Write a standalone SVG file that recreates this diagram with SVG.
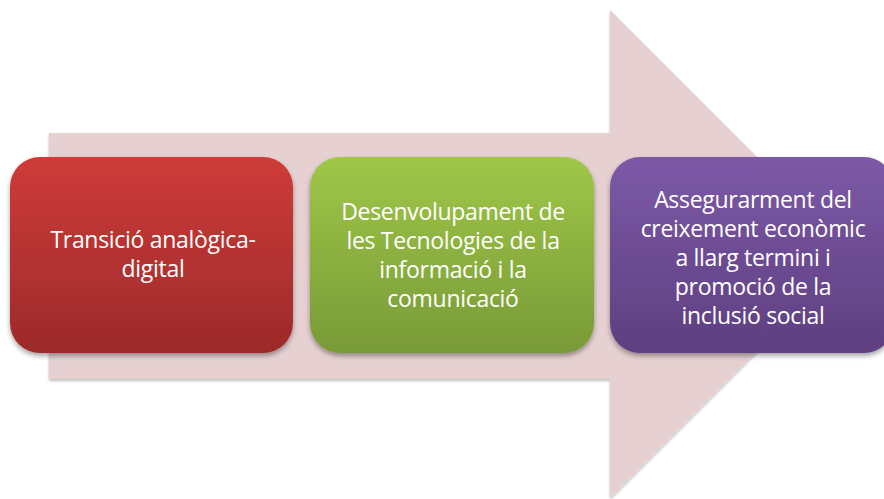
<svg xmlns="http://www.w3.org/2000/svg" width="884" height="499" viewBox="0 0 884 499">
<defs>
<style>
.lbl{font-family:"Open Sans","Noto Sans","Liberation Sans",sans-serif;font-size:23px;fill:#ffffff;text-anchor:middle;letter-spacing:-0.3px}
</style>
<linearGradient id="gRed" x1="0" y1="0" x2="0" y2="1"><stop offset="0" stop-color="#CE3B39"/><stop offset="1" stop-color="#9D2A2A"/></linearGradient>
<linearGradient id="gGreen" x1="0" y1="0" x2="0" y2="1"><stop offset="0" stop-color="#9FC748"/><stop offset="1" stop-color="#789A37"/></linearGradient>
<linearGradient id="gPurple" x1="0" y1="0" x2="0" y2="1"><stop offset="0" stop-color="#7C59A7"/><stop offset="1" stop-color="#5E3F80"/></linearGradient>
<filter id="sh" x="-10%" y="-10%" width="120%" height="130%"><feDropShadow dx="0" dy="3" stdDeviation="2.5" flood-color="#000" flood-opacity="0.35"/></filter>
<filter id="sha" x="-5%" y="-5%" width="110%" height="110%"><feDropShadow dx="0" dy="2" stdDeviation="1.5" flood-color="#000" flood-opacity="0.25"/></filter>
</defs>
<g id="arrow">
<path d="M49,133 L610,133 L610,10 L854,254 L610,498 L610,379 L49,379 Z" fill="#E6D0D1" filter="url(#sha)"/>
</g>
<g id="connectors"></g>
<g id="node1">
<rect x="10" y="157" width="283" height="196" rx="30" fill="url(#gRed)" filter="url(#sh)"/>
<text class="lbl" x="153" y="248">Transició analògica-</text>
<text class="lbl" x="153" y="277">digital</text>
</g>
<g id="node2">
<rect x="310" y="157" width="284" height="196" rx="30" fill="url(#gGreen)" filter="url(#sh)"/>
<text class="lbl" x="453" y="220">Desenvolupament de</text>
<text class="lbl" x="453" y="249">les Tecnologies de la</text>
<text class="lbl" x="453" y="278">informació i la</text>
<text class="lbl" x="453" y="307">comunicació</text>
</g>
<g id="node3">
<rect x="610" y="157" width="284" height="196" rx="30" fill="url(#gPurple)" filter="url(#sh)"/>
<text class="lbl" x="753" y="208">Assegurarment del</text>
<text class="lbl" x="753" y="237">creixement econòmic</text>
<text class="lbl" x="753" y="266">a llarg termini i</text>
<text class="lbl" x="753" y="295">promoció de la</text>
<text class="lbl" x="753" y="324">inclusió social</text>
</g>
</svg>
